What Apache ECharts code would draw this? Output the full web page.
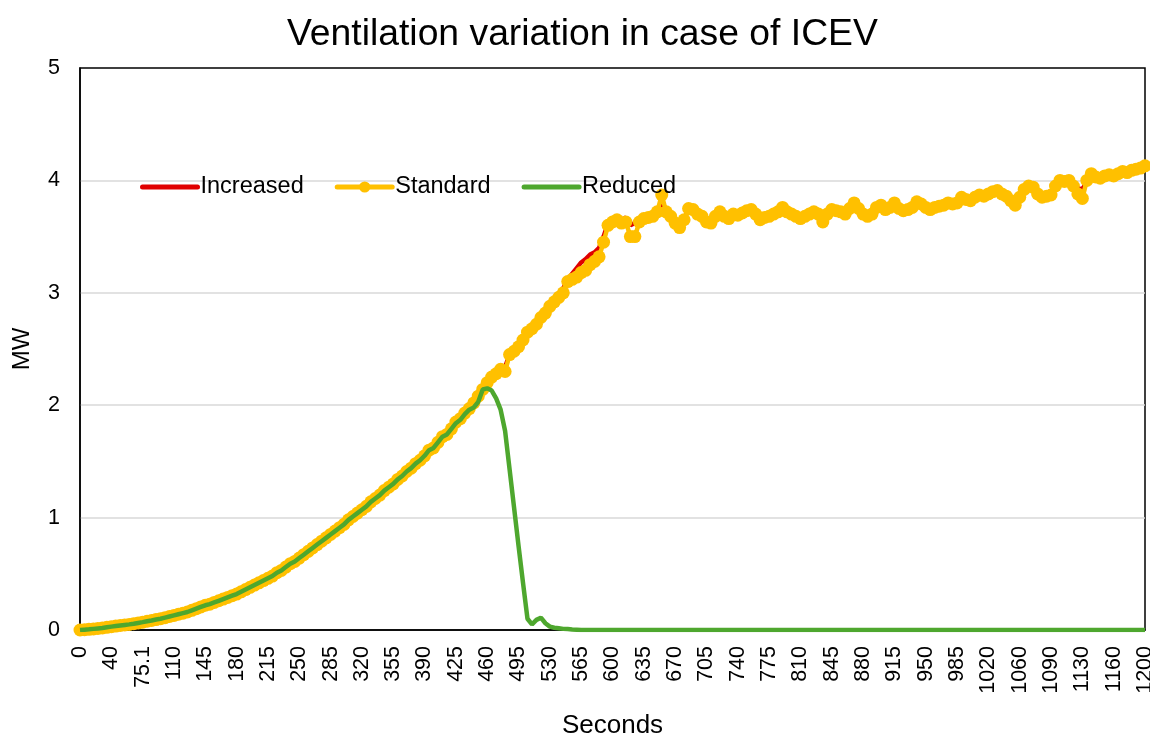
<!DOCTYPE html>
<html>
<head>
<meta charset="utf-8">
<script src="https://cdn.jsdelivr.net/npm/echarts@6/dist/echarts.min.js"></script>
<style>
  html, body { margin: 0; padding: 0; background: #fff; }
  #chart { width: 1150px; height: 734px; }
</style>
</head>
<body>
<div id="chart"></div>
<script>
// labelled seconds on the x axis, one every 7 samples
const tickLabels = ['0', '40', '75.1', '110', '145', '180', '215', '250', '285', '320', '355', '390',
  '425', '460', '495', '530', '565', '600', '635', '670', '705', '740', '775', '810', '845', '880',
  '915', '950', '985', '1020', '1060', '1090', '1130', '1160', '1200'];
const yTicks = [0, 1, 2, 3, 4, 5];

const standard = [
  0, 0.003, 0.006, 0.01, 0.014, 0.018, 0.024,
  0.03, 0.035, 0.04, 0.045, 0.05, 0.056, 0.063,
  0.07, 0.078, 0.085, 0.093, 0.10, 0.11, 0.12,
  0.13, 0.14, 0.15, 0.16, 0.175, 0.19, 0.205,
  0.22, 0.23, 0.245, 0.26, 0.275, 0.29, 0.305,
  0.32, 0.34, 0.36, 0.38, 0.40, 0.42, 0.44,
  0.46, 0.48, 0.51, 0.53, 0.56, 0.59, 0.61,
  0.64, 0.67, 0.70, 0.73, 0.76, 0.79, 0.82,
  0.85, 0.88, 0.91, 0.94, 0.98, 1.01, 1.04,
  1.07, 1.10, 1.14, 1.17, 1.20, 1.24, 1.27,
  1.30, 1.34, 1.37, 1.41, 1.44, 1.48, 1.51,
  1.55, 1.60, 1.62, 1.67, 1.72, 1.74, 1.79,
  1.85, 1.88, 1.93, 1.97, 2.02, 2.08, 2.14,
  2.20, 2.25, 2.28, 2.32, 2.30, 2.45, 2.48,
  2.52, 2.58, 2.65, 2.68, 2.72, 2.78, 2.82,
  2.88, 2.92, 2.96, 3.00, 3.10, 3.12, 3.14,
  3.18, 3.20, 3.25, 3.28, 3.32, 3.45, 3.60,
  3.63, 3.65, 3.62, 3.63, 3.50, 3.50, 3.63,
  3.66, 3.67, 3.68, 3.72, 3.87, 3.72, 3.68,
  3.62, 3.58, 3.65, 3.75, 3.74, 3.70, 3.68,
  3.63, 3.62, 3.68, 3.72, 3.68, 3.66, 3.70,
  3.69, 3.71, 3.73, 3.74, 3.70, 3.65, 3.67,
  3.68, 3.70, 3.72, 3.76, 3.72, 3.70, 3.68,
  3.66, 3.68, 3.70, 3.72, 3.70, 3.63, 3.70,
  3.74, 3.73, 3.72, 3.70, 3.75, 3.80, 3.75,
  3.70, 3.68, 3.70, 3.76, 3.78, 3.74, 3.76,
  3.80, 3.75, 3.73, 3.74, 3.76, 3.81, 3.79,
  3.76, 3.74, 3.76, 3.77, 3.78, 3.80, 3.79,
  3.80, 3.85, 3.83, 3.82, 3.85, 3.87, 3.86,
  3.88, 3.90, 3.91, 3.88, 3.86, 3.82, 3.78,
  3.85, 3.92, 3.95, 3.94, 3.88, 3.85, 3.86,
  3.87, 3.95, 4.00, 3.99, 4.00, 3.95, 3.88,
  3.84, 4.00, 4.06, 4.03, 4.02, 4.04, 4.05,
  4.04, 4.06, 4.08, 4.07, 4.09, 4.10, 4.11,
  4.13
];

const increased = [
  0, 0.003, 0.006, 0.01, 0.014, 0.018, 0.024,
  0.03, 0.035, 0.04, 0.045, 0.05, 0.056, 0.063,
  0.07, 0.078, 0.085, 0.093, 0.10, 0.11, 0.12,
  0.13, 0.14, 0.15, 0.16, 0.175, 0.19, 0.205,
  0.22, 0.23, 0.245, 0.26, 0.275, 0.29, 0.305,
  0.32, 0.34, 0.36, 0.38, 0.40, 0.42, 0.44,
  0.46, 0.48, 0.51, 0.53, 0.56, 0.59, 0.61,
  0.64, 0.67, 0.70, 0.73, 0.76, 0.79, 0.82,
  0.85, 0.88, 0.91, 0.94, 0.98, 1.01, 1.04,
  1.07, 1.10, 1.14, 1.17, 1.20, 1.24, 1.27,
  1.30, 1.34, 1.37, 1.41, 1.44, 1.48, 1.51,
  1.55, 1.60, 1.63, 1.67, 1.72, 1.75, 1.79,
  1.85, 1.89, 1.93, 1.98, 2.03, 2.09, 2.15,
  2.20, 2.25, 2.29, 2.33, 2.34, 2.45, 2.49,
  2.53, 2.59, 2.65, 2.69, 2.73, 2.78, 2.83,
  2.89, 2.94, 2.99, 3.04, 3.12, 3.17, 3.22,
  3.27, 3.30, 3.34, 3.36, 3.40, 3.50, 3.62,
  3.65, 3.66, 3.65, 3.67, 3.60, 3.62, 3.65,
  3.67, 3.68, 3.69, 3.72, 3.80, 3.72, 3.69,
  3.64, 3.62, 3.66, 3.74, 3.74, 3.70, 3.68,
  3.64, 3.64, 3.68, 3.71, 3.68, 3.67, 3.70,
  3.70, 3.71, 3.73, 3.74, 3.72, 3.67, 3.68,
  3.69, 3.71, 3.73, 3.77, 3.74, 3.71, 3.69,
  3.68, 3.69, 3.71, 3.72, 3.71, 3.68, 3.71,
  3.74, 3.73, 3.73, 3.72, 3.75, 3.79, 3.76,
  3.72, 3.70, 3.71, 3.76, 3.78, 3.75, 3.77,
  3.80, 3.76, 3.74, 3.75, 3.77, 3.81, 3.79,
  3.77, 3.76, 3.77, 3.78, 3.79, 3.80, 3.80,
  3.81, 3.85, 3.84, 3.83, 3.85, 3.87, 3.87,
  3.88, 3.90, 3.91, 3.89, 3.87, 3.85, 3.83,
  3.87, 3.92, 3.95, 3.94, 3.90, 3.87, 3.88,
  3.89, 3.95, 3.99, 3.99, 4.00, 3.97, 3.93,
  3.92, 3.99, 4.05, 4.03, 4.03, 4.04, 4.05,
  4.05, 4.06, 4.08, 4.08, 4.09, 4.10, 4.11,
  4.13
];

const reduced = [
  0, 0.003, 0.006, 0.01, 0.014, 0.018, 0.024,
  0.03, 0.035, 0.04, 0.045, 0.05, 0.056, 0.063,
  0.07, 0.078, 0.085, 0.093, 0.10, 0.11, 0.12,
  0.13, 0.14, 0.15, 0.16, 0.175, 0.19, 0.205,
  0.22, 0.23, 0.245, 0.26, 0.275, 0.29, 0.305,
  0.32, 0.34, 0.36, 0.38, 0.40, 0.42, 0.44,
  0.46, 0.48, 0.51, 0.53, 0.56, 0.59, 0.61,
  0.64, 0.67, 0.70, 0.73, 0.76, 0.79, 0.82,
  0.85, 0.88, 0.91, 0.94, 0.98, 1.01, 1.04,
  1.07, 1.10, 1.14, 1.17, 1.20, 1.24, 1.27,
  1.30, 1.34, 1.37, 1.41, 1.44, 1.48, 1.51,
  1.55, 1.60, 1.62, 1.67, 1.72, 1.74, 1.79,
  1.84, 1.87, 1.92, 1.96, 1.98, 2.03, 2.14,
  2.15, 2.13, 2.06, 1.96, 1.77, 1.43, 1.09,
  0.75, 0.42, 0.10, 0.05, 0.09, 0.11, 0.06,
  0.03, 0.02, 0.015, 0.01, 0.008, 0.005, 0.003,
  0, 0, 0, 0, 0, 0, 0,
  0, 0, 0, 0, 0, 0, 0,
  0, 0, 0, 0, 0, 0, 0,
  0, 0, 0, 0, 0, 0, 0,
  0, 0, 0, 0, 0, 0, 0,
  0, 0, 0, 0, 0, 0, 0,
  0, 0, 0, 0, 0, 0, 0,
  0, 0, 0, 0, 0, 0, 0,
  0, 0, 0, 0, 0, 0, 0,
  0, 0, 0, 0, 0, 0, 0,
  0, 0, 0, 0, 0, 0, 0,
  0, 0, 0, 0, 0, 0, 0,
  0, 0, 0, 0, 0, 0, 0,
  0, 0, 0, 0, 0, 0, 0,
  0, 0, 0, 0, 0, 0, 0,
  0, 0, 0, 0, 0, 0, 0,
  0, 0, 0, 0, 0, 0, 0,
  0, 0, 0, 0, 0, 0, 0,
  0
];

// 7 samples between labelled ticks; the in-between names are never shown
const STEP = 7;
const seconds = [];
for (let i = 0; i < tickLabels.length - 1; i++) {
  const a = parseFloat(tickLabels[i]);
  const b = parseFloat(tickLabels[i + 1]);
  seconds.push(tickLabels[i]);
  for (let k = 1; k < STEP; k++) {
    seconds.push((a + (b - a) * k / STEP).toFixed(2));
  }
}
seconds.push(tickLabels[tickLabels.length - 1]);

const FONT = 'Liberation Sans, Arial, sans-serif';

const chart = echarts.init(document.getElementById('chart'));
chart.setOption({
  animation: false,
  textStyle: { fontFamily: FONT, color: '#000' },
  title: {
    text: 'Ventilation variation in case of ICEV',
    left: 282,
    top: 11,
    textStyle: { fontFamily: FONT, fontSize: 37.3, fontWeight: 'normal', color: '#000' }
  },
  grid: {
    left: 80,
    right: 5,
    top: 68,
    bottom: 104,
    outerBoundsMode: 'none',
    containLabel: false,
    show: true,
    borderColor: '#000',
    borderWidth: 1.5
  },
  legend: {
    left: 140,
    top: 175,
    padding: 0,
    itemWidth: 55,
    itemHeight: 14,
    itemGap: 31,
    lineStyle: { width: 5, cap: 'round' },
    textStyle: { fontFamily: FONT, fontSize: 23.5, color: '#000', padding: [0, 0, 0, -2] },
    data: [
      { name: 'Increased', itemStyle: { opacity: 0 } },
      'Standard',
      { name: 'Reduced', itemStyle: { opacity: 0 } }
    ]
  },
  xAxis: {
    type: 'category',
    data: seconds,
    boundaryGap: false,
    name: 'Seconds',
    nameLocation: 'middle',
    nameGap: 83,
    nameTextStyle: { fontFamily: FONT, fontSize: 26, color: '#000' },
    axisLine: { lineStyle: { color: '#000', width: 1.5 } },
    axisTick: { show: false },
    axisLabel: {
      interval: STEP - 1,
      rotate: 90,
      margin: 16,
      fontFamily: FONT,
      fontSize: 21.5,
      color: '#000'
    },
    splitLine: { show: false }
  },
  yAxis: {
    type: 'value',
    min: yTicks[0],
    max: yTicks[yTicks.length - 1],
    interval: 1,
    name: 'MW',
    nameLocation: 'middle',
    nameGap: 46,
    nameTextStyle: { fontFamily: FONT, fontSize: 24, color: '#000' },
    axisLine: { show: true, lineStyle: { color: '#000', width: 1.5 } },
    axisTick: { show: false },
    axisLabel: { margin: 20, fontFamily: FONT, fontSize: 21.5, color: '#000' },
    splitLine: { showMinLine: false, showMaxLine: false, lineStyle: { color: '#d9d9d9', width: 1.5 } }
  },
  series: [
    {
      name: 'Increased',
      type: 'line',
      z: 2,
      data: increased,
      symbol: 'none',
      color: '#e00000',
      lineStyle: { color: '#e00000', width: 4.5 }
    },
    {
      name: 'Standard',
      type: 'line',
      z: 3,
      data: standard,
      symbol: 'circle',
      symbolSize: 13,
      showAllSymbol: true,
      color: '#ffc000',
      itemStyle: { color: '#ffc000', borderWidth: 0 },
      lineStyle: { color: '#ffc000', width: 4.5 }
    },
    {
      name: 'Reduced',
      type: 'line',
      z: 4,
      data: reduced,
      symbol: 'none',
      color: '#4ea72e',
      lineStyle: { color: '#4ea72e', width: 4.5 }
    }
  ]
});
</script>
</body>
</html>
